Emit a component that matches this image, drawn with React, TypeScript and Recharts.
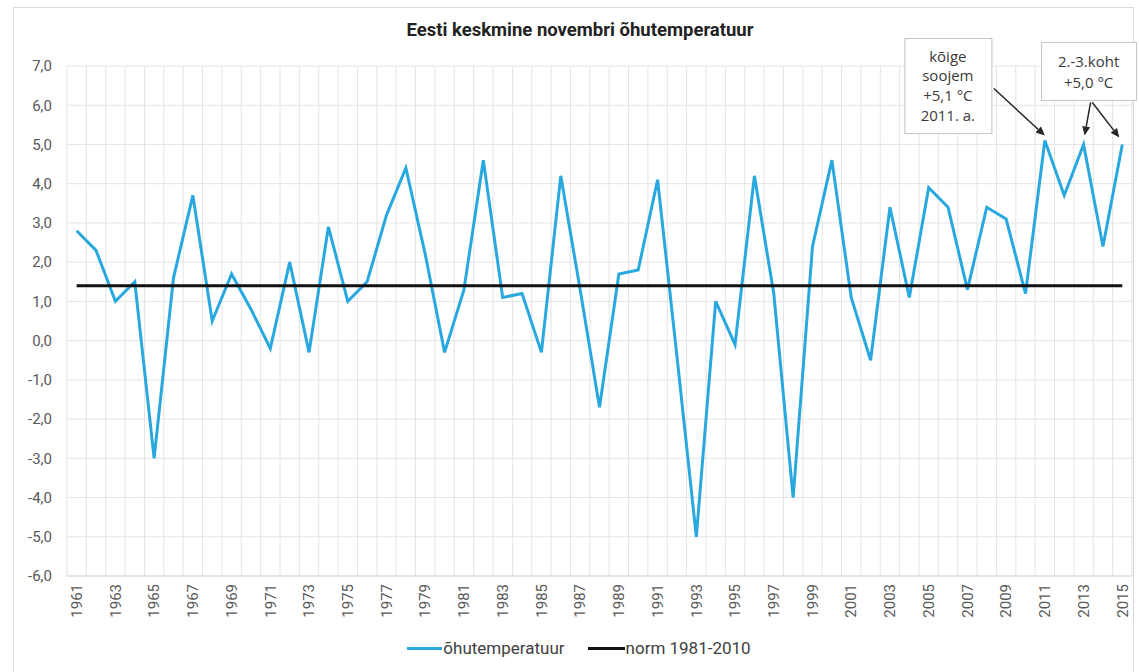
import React from 'react';
import { LineChart, Line, XAxis, YAxis, CartesianGrid, Legend, ReferenceDot } from 'recharts';

const years = [
  1961, 1962, 1963, 1964, 1965, 1966, 1967, 1968, 1969, 1970,
  1971, 1972, 1973, 1974, 1975, 1976, 1977, 1978, 1979, 1980,
  1981, 1982, 1983, 1984, 1985, 1986, 1987, 1988, 1989, 1990,
  1991, 1992, 1993, 1994, 1995, 1996, 1997, 1998, 1999, 2000,
  2001, 2002, 2003, 2004, 2005, 2006, 2007, 2008, 2009, 2010,
  2011, 2012, 2013, 2014, 2015,
];

const temps = [
  2.8, 2.3, 1.0, 1.5, -3.0, 1.6, 3.7, 0.5, 1.7, 0.8,
  -0.2, 2.0, -0.3, 2.9, 1.0, 1.5, 3.2, 4.4, 2.2, -0.3,
  1.3, 4.6, 1.1, 1.2, -0.3, 4.2, 1.3, -1.7, 1.7, 1.8,
  4.1, -0.4, -5.0, 1.0, -0.1, 4.2, 1.2, -4.0, 2.4, 4.6,
  1.1, -0.5, 3.4, 1.1, 3.9, 3.4, 1.3, 3.4, 3.1, 1.2,
  5.1, 3.7, 5.0, 2.4, 5.0,
];

const normValue = 1.4;
const yTicks = [-6, -5, -4, -3, -2, -1, 0, 1, 2, 3, 4, 5, 6, 7];

const title = 'Eesti keskmine novembri õhutemperatuur';
const seriesNames = { temp: 'õhutemperatuur', norm: 'norm 1981-2010' };
const note1 = ['kõige', 'soojem', '+5,1 °C', '2011. a.'];
const note2 = ['2.-3.koht', '+5,0 °C'];

const data = years.map((year, i) => ({ year, temp: temps[i], norm: normValue }));

const BLUE = '#29A8E0';
const BLACK = '#111111';
const GRID = '#e4e4e4';
const TEXT = '#595959';

function Arrow({ x1, y1, x2, y2 }: { x1: number; y1: number; x2: number; y2: number }) {
  const ang = Math.atan2(y2 - y1, x2 - x1);
  const L = 9;
  const W = 4;
  const bx = x2 - L * Math.cos(ang);
  const by = y2 - L * Math.sin(ang);
  const p1x = bx + W * Math.sin(ang);
  const p1y = by - W * Math.cos(ang);
  const p2x = bx - W * Math.sin(ang);
  const p2y = by + W * Math.cos(ang);
  return (
    <g>
      <line x1={x1} y1={y1} x2={bx} y2={by} stroke="#262626" strokeWidth={1.5} />
      <polygon points={`${x2},${y2} ${p1x},${p1y} ${p2x},${p2y}`} fill="#262626" />
    </g>
  );
}

const boxFont = { fontFamily: '"Open Sans", sans-serif', fontSize: 15, fill: '#3a3a3a' };

function Note1(props: any) {
  const { cx, cy } = props;
  if (cx == null || cy == null) return null;
  const lines = [-79, -60, -40, -20];
  return (
    <g>
      <rect x={cx - 140} y={cy - 102} width={87} height={95} fill="#fff" stroke="#c4c4c4" strokeWidth={1} />
      {note1.map((t, i) => (
        <text key={i} x={cx - 97} y={cy + lines[i]} textAnchor="middle" {...boxFont}>{t}</text>
      ))}
      <Arrow x1={cx - 51} y1={cy - 52} x2={cx} y2={cy - 5} />
    </g>
  );
}

function Note2(props: any) {
  const { cx, cy } = props;
  if (cx == null || cy == null) return null;
  const lines = [-77, -56];
  return (
    <g>
      <rect x={cx - 42} y={cy - 102} width={95} height={58} fill="#fff" stroke="#c4c4c4" strokeWidth={1} />
      {note2.map((t, i) => (
        <text key={i} x={cx + 5} y={cy + lines[i]} textAnchor="middle" {...boxFont}>{t}</text>
      ))}
      <Arrow x1={cx + 7} y1={cy - 42} x2={cx + 1} y2={cy - 9} />
    </g>
  );
}

function Note3(props: any) {
  const { cx, cy } = props;
  if (cx == null || cy == null) return null;
  return <Arrow x1={cx - 30} y1={cy - 42} x2={cx - 3} y2={cy - 7} />;
}

function XTick(props: any) {
  const { x, y, payload } = props;
  return (
    <g transform={`translate(${x},${y})`}>
      <text
        transform="rotate(-90)"
        x={0}
        y={0}
        dy="0.35em"
        textAnchor="end"
        fill={TEXT}
        fontSize={15}
        fontFamily="Roboto, sans-serif"
      >
        {payload.value}
      </text>
    </g>
  );
}

function LegendContent() {
  return (
    <div
      style={{
        display: 'flex',
        justifyContent: 'center',
        alignItems: 'center',
        height: 30,
        fontSize: 17,
        color: '#404040',
        fontFamily: 'Roboto, sans-serif',
        paddingLeft: 26,
      }}
    >
      <span style={{ display: 'inline-block', width: 35, height: 3, background: BLUE, marginRight: 1 }} />
      <span style={{ marginRight: 23 }}>{seriesNames.temp}</span>
      <span style={{ display: 'inline-block', width: 37, height: 3, background: BLACK, marginRight: 1 }} />
      <span>{seriesNames.norm}</span>
    </div>
  );
}

const vGrid = (props: any) => {
  const off = props.offset;
  const n = years.length;
  const out: number[] = [];
  for (let i = 0; i <= n; i++) out.push(off.left + (i * off.width) / n);
  return out;
};

const PLOT_W = 1139 - 67 - 7;
const HALF_BAND = PLOT_W / years.length / 2;

export default function App() {
  return (
    <div
      style={{
        position: 'absolute',
        left: 0,
        top: 0,
        width: 1139,
        height: 672,
        background: '#fff',
        overflow: 'hidden',
        fontFamily: 'Roboto, sans-serif',
      }}
    >
      <div
        style={{
          position: 'absolute',
          left: 13,
          top: 7,
          width: 1121,
          height: 700,
          border: '1px solid #d9d9d9',
          boxSizing: 'border-box',
        }}
      />
      <div
        style={{
          position: 'absolute',
          left: 330,
          width: 500,
          top: 19,
          textAlign: 'center',
          fontWeight: 700,
          fontSize: 18.5,
          color: '#222',
          fontFamily: 'Roboto, sans-serif',
          zIndex: 2,
        }}
      >
        {title}
      </div>
      <div style={{ position: 'absolute', left: 0, top: 0 }}>
        <LineChart width={1139} height={672} data={data} margin={{ top: 66, right: 7, bottom: 9, left: 0 }}>
          <CartesianGrid stroke={GRID} strokeWidth={1} verticalCoordinatesGenerator={vGrid} />
          <XAxis
            dataKey="year"
            interval={1}
            height={57}
            padding={{ left: HALF_BAND, right: HALF_BAND }}
            tick={<XTick />}
            tickLine={false}
            axisLine={{ stroke: '#d6d6d6' }}
          />
          <YAxis
            width={67}
            domain={[-6, 7]}
            ticks={yTicks}
            interval={0}
            tickFormatter={(v: number) => v.toFixed(1).replace('.', ',')}
            tick={{ fill: TEXT, fontSize: 15, fontFamily: 'Roboto, sans-serif' }}
            axisLine={false}
            tickLine={false}
            tickSize={0}
            tickMargin={15}
          />
          <Line
            type="linear"
            dataKey="temp"
            name={seriesNames.temp}
            stroke={BLUE}
            strokeWidth={3}
            dot={false}
            isAnimationActive={false}
          />
          <Line
            type="linear"
            dataKey="norm"
            name={seriesNames.norm}
            stroke={BLACK}
            strokeWidth={3}
            dot={false}
            isAnimationActive={false}
          />
          <ReferenceDot x={2011} y={5.1} r={0} shape={(p: any) => <Note1 {...p} />} />
          <ReferenceDot x={2013} y={5.0} r={0} shape={(p: any) => <Note2 {...p} />} />
          <ReferenceDot x={2015} y={5.0} r={0} shape={(p: any) => <Note3 {...p} />} />
          <Legend verticalAlign="bottom" height={30} content={() => <LegendContent />} />
        </LineChart>
      </div>
    </div>
  );
}
